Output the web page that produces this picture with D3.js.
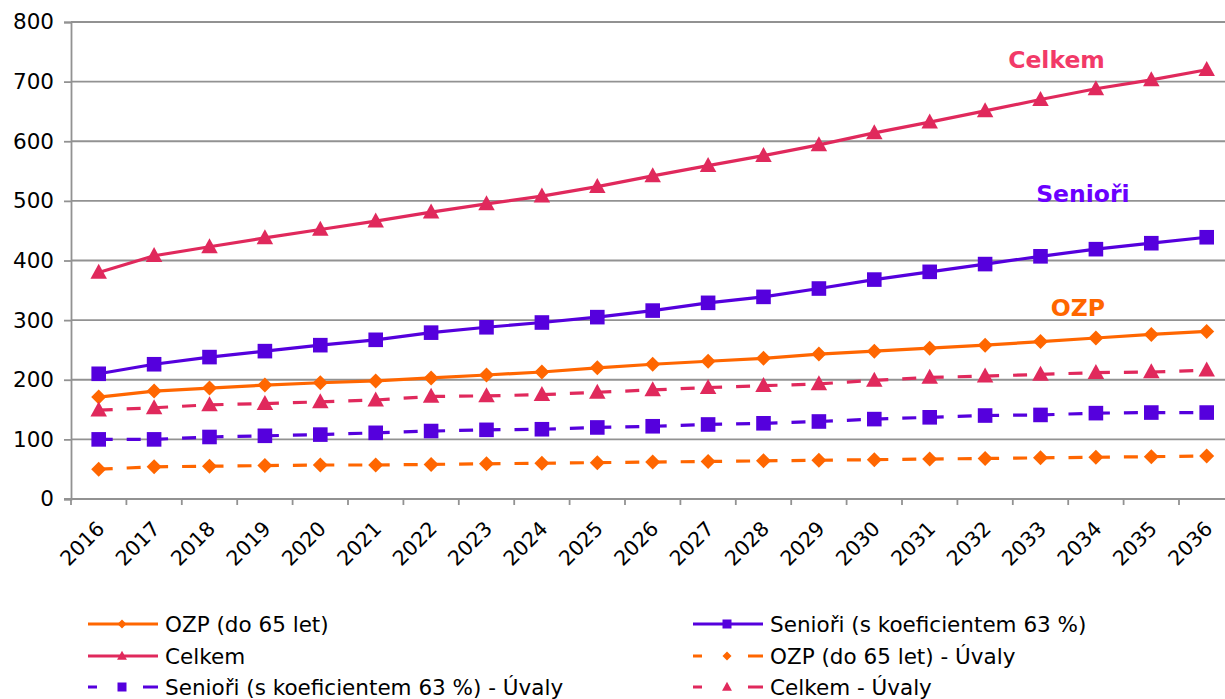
<!DOCTYPE html>
<html>
<head>
<meta charset="utf-8">
<script src="https://cdn.jsdelivr.net/npm/d3@7"></script>
<style>
  html, body { margin: 0; padding: 0; background: #fff; }
  svg { display: block; font-family: "DejaVu Sans", Verdana, sans-serif; }
</style>
</head>
<body>
<svg id="chart" width="1225" height="699"></svg>
<script>
const years = ["2016","2017","2018","2019","2020","2021","2022","2023","2024","2025","2026",
               "2027","2028","2029","2030","2031","2032","2033","2034","2035","2036"];
const yTicks = [0, 100, 200, 300, 400, 500, 600, 700, 800];

const ozp        = [171,181,186,191,195,198,203,208,213,220,226,231,236,243,248,253,258,264,270,276,281];
const seniori    = [210,226,238,248,258,267,279,288,296,305,316,329,339,353,368,381,394,407,419,429,439];
const celkem     = [380,408,423,438,452,466,481,495,508,524,542,559,576,594,614,632,651,670,688,703,720];
const ozpUv      = [50,54,55,56,57,57,58,59,60,61,62,63,64,65,66,67,68,69,70,71,72];
const senioriUv  = [100,100,104,106,108,111,114,116,117,120,122,125,127,130,134,137,140,141,144,145,145];
const celkemUv   = [149,153,158,160,163,166,172,173,175,179,183,187,190,193,199,204,206,209,212,213,216];

const seriesNames = ["OZP (do 65 let)", "Senioři (s koeficientem 63 %)", "Celkem",
                     "OZP (do 65 let) - Úvaly", "Senioři (s koeficientem 63 %) - Úvaly", "Celkem - Úvaly"];
const seriesValues = [ozp, seniori, celkem, ozpUv, senioriUv, celkemUv];
const seriesColors = ["#FF6600", "#5500DD", "#E0295C", "#FF6600", "#5500DD", "#E0295C"];
const seriesMarkers = ["diamond", "square", "triangle", "diamond", "square", "triangle"];
const seriesDashed = [false, false, false, true, true, true];

const labelTexts = ["Celkem", "Senioři", "OZP"];
const labelColors = ["#F23A68", "#6A00FF", "#FF6600"];

const svg = d3.select("#chart");
const plotLeft = 71, plotTop = 22, plotBottom = 499, step = 55.4;
const x = d3.scaleBand().domain(years).range([plotLeft, plotLeft + step * years.length]).padding(0);
const y = d3.scaleLinear().domain([0, 800]).range([plotBottom, plotTop]);
const cx = d => x(d) + x.bandwidth() / 2;

// gridlines
svg.append("g").selectAll("line").data(yTicks.filter(t => t > 0)).join("line")
  .attr("x1", plotLeft).attr("x2", 1225)
  .attr("y1", d => y(d)).attr("y2", d => y(d))
  .attr("stroke", "#929292").attr("stroke-width", 1.8);

// y axis
const yAxis = svg.append("g").attr("transform", `translate(${plotLeft},0)`)
  .call(d3.axisLeft(y).tickValues(yTicks).tickSize(7).tickPadding(10));
yAxis.select(".domain").attr("stroke", "#929292").attr("stroke-width", 1.8);
yAxis.selectAll(".tick line").attr("stroke", "#929292").attr("stroke-width", 1.8);
yAxis.selectAll("text").attr("font-size", 21.5).attr("fill", "#000")
  .attr("font-family", "DejaVu Sans, Verdana, sans-serif");

// x axis
const xAxisG = svg.append("g");
xAxisG.append("line").attr("x1", plotLeft - 7).attr("x2", 1225)
  .attr("y1", plotBottom).attr("y2", plotBottom)
  .attr("stroke", "#929292").attr("stroke-width", 1.8);
xAxisG.selectAll("line.tk").data(years).join("line").attr("class", "tk")
  .attr("x1", d => x(d)).attr("x2", d => x(d))
  .attr("y1", plotBottom).attr("y2", plotBottom + 6)
  .attr("stroke", "#929292").attr("stroke-width", 1.8);
xAxisG.selectAll("text").data(years).join("text")
  .attr("transform", d => `translate(${cx(d) + 7},530) rotate(-45)`)
  .attr("text-anchor", "end")
  .attr("font-size", 20.5).attr("fill", "#000")
  .text(d => d);

function markerPath(type, s) {
  if (type === "diamond") return `M0,${-s}L${s},0L0,${s}L${-s},0Z`;
  if (type === "square") return `M${-s},${-s}H${s}V${s}H${-s}Z`;
  return `M0,${-s * 1.15}L${s * 1.1},${s * 0.85}L${-s * 1.1},${s * 0.85}Z`;
}

// series
seriesValues.forEach((vals, i) => {
  const g = svg.append("g");
  const pts = years.map((yr, j) => [cx(yr), y(vals[j])]);
  if (!seriesDashed[i]) {
    g.append("path").attr("d", d3.line()(pts)).attr("fill", "none")
      .attr("stroke", seriesColors[i]).attr("stroke-width", 3.2)
      .attr("stroke-linejoin", "round");
  } else {
    const segs = d3.pairs(pts);
    g.selectAll("path.seg").data(segs).join("path").attr("class", "seg")
      .attr("d", d => d3.line()(d)).attr("fill", "none")
      .attr("stroke", seriesColors[i]).attr("stroke-width", 3.2)
      .attr("stroke-dasharray", "14,14");
  }
  const ms = seriesMarkers[i] === "square" ? 7.3 : (seriesMarkers[i] === "diamond" ? 7.5 : 7.5);
  g.selectAll("path.mk").data(pts).join("path").attr("class", "mk")
    .attr("transform", d => `translate(${d[0]},${d[1]})`)
    .attr("d", markerPath(seriesMarkers[i], ms))
    .attr("fill", seriesColors[i]);
});

// series labels
const labelPos = [["2033", 723, 16], ["2034", 498, -13], ["2034", 307, -18]];
labelTexts.forEach((t, i) => {
  svg.append("text")
    .attr("x", cx(labelPos[i][0]) + labelPos[i][2]).attr("y", y(labelPos[i][1]))
    .attr("text-anchor", "middle").attr("font-size", 23.5).attr("font-weight", "bold")
    .attr("fill", labelColors[i]).text(t);
});

// legend
const legCols = [88, 693], legRows = [624, 656, 687];
seriesNames.forEach((name, i) => {
  const lx = legCols[i % 2], ly = legRows[Math.floor(i / 2)];
  const g = svg.append("g").attr("transform", `translate(${lx},${ly})`);
  const line = g.append("line").attr("x1", 0).attr("x2", 70).attr("y1", 0).attr("y2", 0)
    .attr("stroke", seriesColors[i]).attr("stroke-width", 3.2);
  if (seriesDashed[i]) line.attr("stroke-dasharray", "9,46,15");
  g.append("path").attr("transform", "translate(34,0)")
    .attr("d", markerPath(seriesMarkers[i], 4.5)).attr("fill", seriesColors[i]);
  g.append("text").attr("x", 77).attr("y", 7.5).attr("font-size", 21.5).attr("fill", "#000").text(name);
});
</script>
</body>
</html>
